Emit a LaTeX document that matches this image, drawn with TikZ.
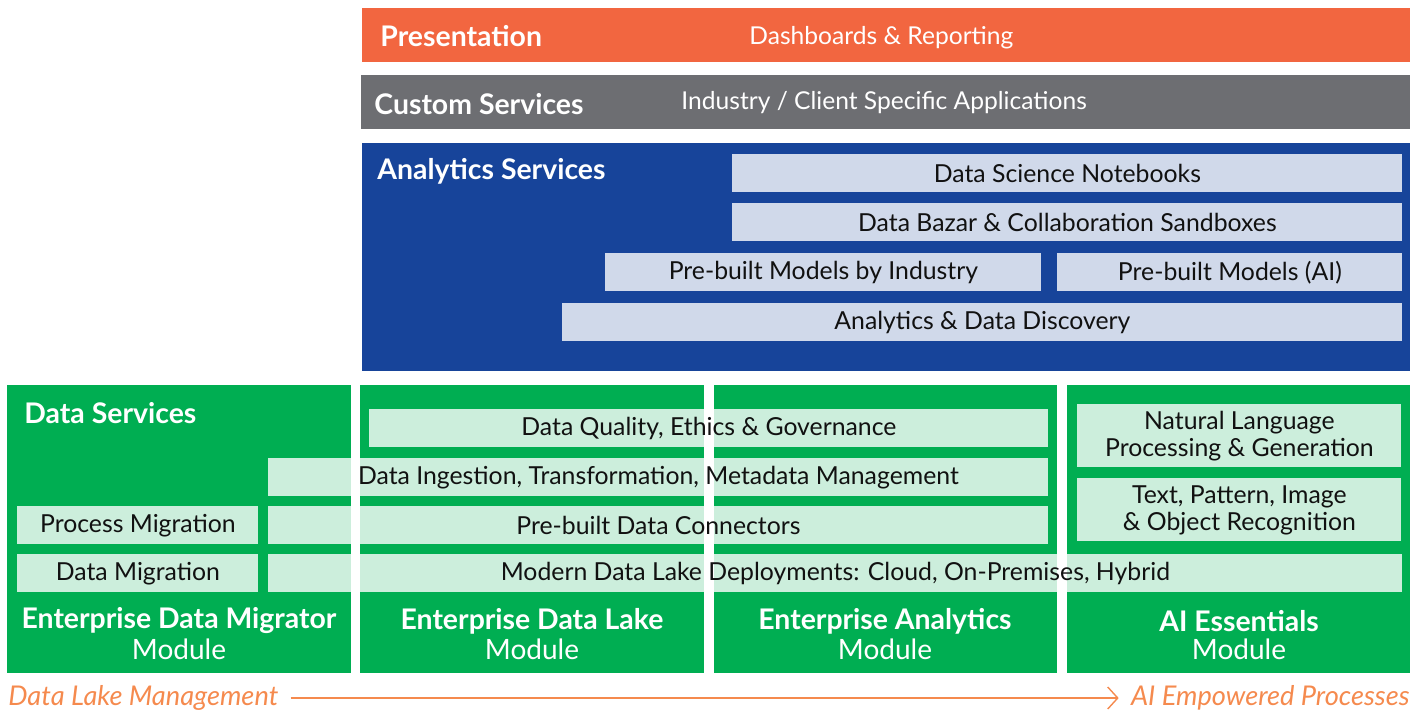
\documentclass[tikz,border=0pt]{standalone}
\usepackage{fontspec}
\setmainfont{Lato}
\usetikzlibrary{arrows.meta}
\definecolor{presorange}{RGB}{242,102,64}
\definecolor{customgray}{RGB}{109,110,114}
\definecolor{analyticsblue}{RGB}{23,68,154}
\definecolor{modgreen}{RGB}{0,174,82}
\definecolor{floworange}{RGB}{245,138,78}
\definecolor{tiletext}{RGB}{17,17,17}
\tikzstyle{layer} = [rectangle, anchor=north west, inner sep=0pt,
    minimum width=524pt, minimum height=27pt]
\tikzstyle{module} = [rectangle, fill=modgreen, anchor=north west, inner sep=0pt,
    minimum width=172pt, minimum height=144pt]
\tikzstyle{tile} = [rectangle, fill=white, fill opacity=0.8, text opacity=1,
    text=tiletext, anchor=north west, inner sep=0pt, minimum height=19pt,
    align=center, font=\fontsize{12.4}{13.5}\selectfont]
\tikzstyle{heading} = [anchor=west, inner sep=0pt, text=white,
    font=\bfseries\fontsize{14.2}{16}\selectfont]
\tikzstyle{caption} = [anchor=west, inner sep=0pt, text=white,
    font=\fontsize{12.3}{14}\selectfont]
\tikzstyle{modname} = [inner sep=0pt, text=white,
    font=\bfseries\fontsize{14.2}{16}\selectfont]
\tikzstyle{modword} = [inner sep=0pt, text=white,
    font=\fontsize{14}{16}\selectfont]
\tikzstyle{flow} = [inner sep=0pt, text=floworange,
    font=\itshape\fontsize{13.6}{15}\selectfont]

\begin{document}
\begin{tikzpicture}[x=0.5pt, y=-0.5pt]
\useasboundingbox (0,0) rectangle (1424,711);

% upper layers
\node[layer, fill=presorange, name=pres] at (362,8) {};
\node[heading, name=presT] at (380,36) {Presentation};
\node[caption, name=presC] at (749,38) {Dashboards \& Reporting};

\node[layer, fill=customgray, minimum width=524.5pt, name=cust] at (361,75) {};
\node[heading, name=custT] at (374,104) {Custom Services};
\node[caption, name=custC] at (681,103) {Industry / Client Specific Applications};

\node[layer, fill=analyticsblue, minimum height=114pt, name=anal] at (362,143) {};
\node[heading, name=analT] at (377,171) {Analytics Services};
\node[tile, minimum width=335pt, name=notebooks] at (732,154) {Data Science Notebooks};
\node[tile, minimum width=335pt, name=bazar] at (732,203) {Data Bazar \& Collaboration Sandboxes};
\node[tile, minimum width=218pt, name=byind] at (605,253) {Pre-built Models by Industry};
\node[tile, minimum width=172.5pt, name=modai] at (1057,253) {Pre-built Models (AI)};
\node[tile, minimum width=420pt, name=discover] at (562,303) {Analytics \& Data Discovery};

% modules
\node[module, name=migr] at (7,385) {};
\node[module, name=lake] at (360,385) {};
\node[module, minimum width=171.5pt, name=analy] at (714,385) {};
\node[module, minimum width=171.5pt, name=aiess] at (1067,385) {};
\node[heading, name=dataT] at (24,413) {Data Services};

\node[tile, minimum width=339.5pt, name=quality] at (369,409) {Data Quality, Ethics \& Governance};
\node[tile, minimum width=390pt, name=ingest] at (268,458) {Data Ingestion, Transformation, Metadata Management};
\node[tile, minimum width=390pt, name=connect] at (268,506) {Pre-built Data Connectors};
\node[tile, minimum width=120.5pt, name=procmig] at (17,506) {Process Migration};
\node[tile, minimum width=567pt, name=deploy] at (268,554) {Modern Data Lake Deployments: Cloud, On-Premises, Hybrid};
\node[tile, minimum width=120.5pt, name=datamig] at (17,554) {Data Migration};
\node[tile, minimum width=162pt, minimum height=31.5pt, name=nlp] at (1077,404)
    {Natural Language\\Processing \& Generation};
\node[tile, minimum width=162pt, minimum height=31.5pt, name=recog] at (1077,478)
    {Text, Pattern, Image\\\& Object Recognition};

\node[modname, name=migrN] at (179,621) {Enterprise Data Migrator};
\node[modword, name=migrW] at (179,649) {Module};
\node[modname, name=lakeN] at (532,621) {Enterprise Data Lake};
\node[modword, name=lakeW] at (532,649) {Module};
\node[modname, name=analyN] at (885,621) {Enterprise Analytics};
\node[modword, name=analyW] at (885,649) {Module};
\node[modname, name=aiessN] at (1239,621) {AI Essentials};
\node[modword, name=aiessW] at (1239,649) {Module};

% progression
\node[flow, anchor=west, name=dlm] at (8,698) {Data Lake Management};
\node[flow, anchor=east, name=aep] at (1410,698) {AI Empowered Processes};
\draw[floworange, line width=0.7pt, -{Straight Barb[length=5pt, width=11pt, line width=0.7pt]}]
    ([xshift=6pt]dlm.east) -- ([xshift=-6pt]aep.west);

\end{tikzpicture}
\end{document}
